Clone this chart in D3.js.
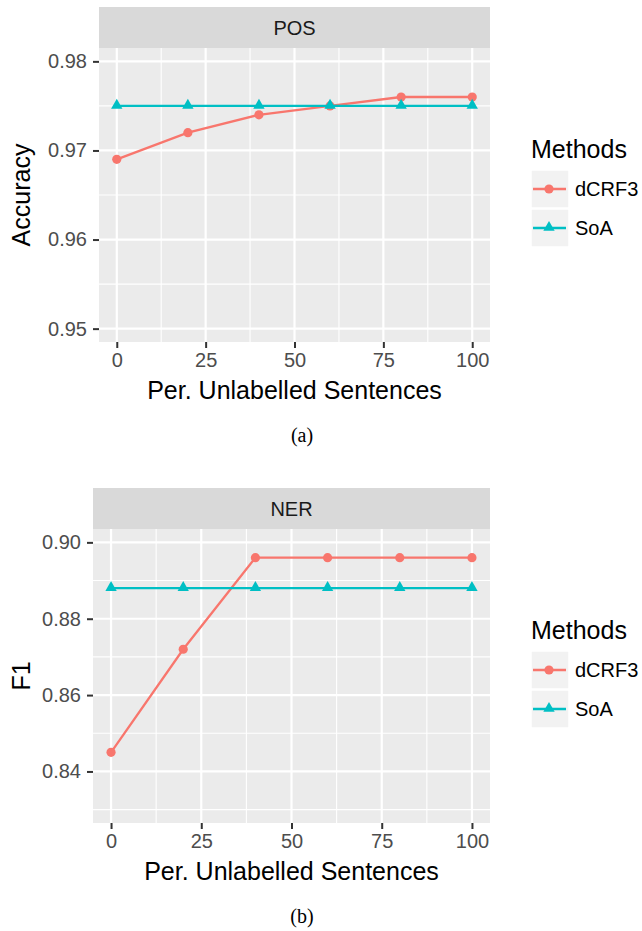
<!DOCTYPE html>
<html>
<head>
<meta charset="utf-8">
<script src="https://cdn.jsdelivr.net/npm/d3@7"></script>
<style>
  body { margin: 0; background: #fff; }
  svg { display: block; font-family: "Liberation Sans", Arial, sans-serif; }
</style>
</head>
<body>
<div id="chart"></div>
<script>
// Données
const xValues = [0, 20, 40, 60, 80, 100];
const xTicks = [0, 25, 50, 75, 100];
const methods = ['dCRF3', 'SoA'];
const posDcrf3 = [0.969, 0.972, 0.974, 0.975, 0.976, 0.976];
const posSoa = [0.975, 0.975, 0.975, 0.975, 0.975, 0.975];
const posYTicks = [0.95, 0.96, 0.97, 0.98];
const nerDcrf3 = [0.845, 0.872, 0.896, 0.896, 0.896, 0.896];
const nerSoa = [0.888, 0.888, 0.888, 0.888, 0.888, 0.888];
const nerYTicks = [0.84, 0.86, 0.88, 0.90];

const colors = { dCRF3: '#F8766D', SoA: '#00BFC4' };
const triSize = 56;
const dotR = 4.6;

const svg = d3.select('#chart')
    .append('svg')
    .attr('width', 642)
    .attr('height', 931);

// petit helper : ajoute la moitié d'un pas entre les graduations
function minorBreaks(ticks, domain) {
    const step = ticks[1] - ticks[0];
    const out = ticks.map(t => t - step / 2).concat([ticks[ticks.length - 1] + step / 2]);
    const lo = Math.min(...domain), hi = Math.max(...domain);
    return out.filter(v => v > lo && v < hi);
}

function drawPanel(cfg) {
    const { strip, series, yTicks, yLimits, yTitle, left, top, bottom, right, caption, legendTop } = cfg;
    const stripH = 41;
    const plotTop = top + stripH;

    const xScale = d3.scaleLinear().domain([-5, 105]).range([left, right]);
    const r = yLimits[1] - yLimits[0];
    const yScale = d3.scaleLinear()
        .domain([yLimits[0] - 0.05 * r, yLimits[1] + 0.05 * r])
        .range([bottom, plotTop]);

    const g = svg.append('g');

    // fond + bandeau
    g.append('rect').attr('x', left).attr('y', plotTop)
        .attr('width', right - left).attr('height', bottom - plotTop).attr('fill', '#EBEBEB');
    g.append('rect').attr('x', left).attr('y', top)
        .attr('width', right - left).attr('height', stripH).attr('fill', '#D9D9D9');
    g.append('text').attr('x', (left + right) / 2).attr('y', top + stripH / 2 + 7)
        .attr('text-anchor', 'middle').attr('font-size', 20).attr('fill', '#1A1A1A').text(strip);

    // grille mineure
    const yMinor = minorBreaks(yTicks, yScale.domain());
    const xMinor = minorBreaks(xTicks, xScale.domain());
    g.selectAll('line.ymin').data(yMinor).enter().append('line')
        .attr('x1', left).attr('x2', right)
        .attr('y1', d => yScale(d)).attr('y2', d => yScale(d))
        .attr('stroke', '#fff').attr('stroke-width', 1.1);
    g.selectAll('line.xmin').data(xMinor).enter().append('line')
        .attr('y1', plotTop).attr('y2', bottom)
        .attr('x1', d => xScale(d)).attr('x2', d => xScale(d))
        .attr('stroke', '#fff').attr('stroke-width', 1.1);
    // grille majeure
    g.selectAll('line.ymaj').data(yTicks).enter().append('line')
        .attr('x1', left).attr('x2', right)
        .attr('y1', d => yScale(d)).attr('y2', d => yScale(d))
        .attr('stroke', '#fff').attr('stroke-width', 2.2);
    g.selectAll('line.xmaj').data(xTicks).enter().append('line')
        .attr('y1', plotTop).attr('y2', bottom)
        .attr('x1', d => xScale(d)).attr('x2', d => xScale(d))
        .attr('stroke', '#fff').attr('stroke-width', 2.2);

    // Axes
    const yAxis = g.append('g').attr('transform', `translate(${left},0)`)
        .call(d3.axisLeft(yScale).tickValues(yTicks).tickFormat(d3.format('.2f')).tickSize(6).tickPadding(6));
    const xAxis = g.append('g').attr('transform', `translate(0,${bottom})`)
        .call(d3.axisBottom(xScale).tickValues(xTicks).tickSize(6).tickPadding(5));
    [yAxis, xAxis].forEach(a => {
        a.select('.domain').remove();
        a.selectAll('line').attr('stroke', '#333333').attr('stroke-width', 2);
        a.selectAll('text').attr('fill', '#4D4D4D').attr('font-size', 20)
            .attr('font-family', '"Liberation Sans", Arial, sans-serif');
    });

    // Séries
    const line = d3.line().x((d, i) => xScale(xValues[i])).y(d => yScale(d));
    methods.forEach((m, k) => {
        const vals = series[k];
        g.append('path').datum(vals).attr('d', line)
            .attr('fill', 'none').attr('stroke', colors[m]).attr('stroke-width', 2.3);
        if (m === 'dCRF3') {
            g.selectAll(null).data(vals).enter().append('circle')
                .attr('cx', (d, i) => xScale(xValues[i])).attr('cy', d => yScale(d))
                .attr('r', dotR).attr('fill', colors[m]);
        } else {
            g.selectAll(null).data(vals).enter().append('path')
                .attr('d', d3.symbol().type(d3.symbolTriangle).size(triSize))
                .attr('transform', (d, i) => `translate(${xScale(xValues[i])},${yScale(d) - 0.5})`)
                .attr('fill', colors[m]);
        }
    });

    // Titres
    g.append('text').attr('x', (left + right) / 2).attr('y', bottom + 57)
        .attr('text-anchor', 'middle').attr('font-size', 25).attr('fill', '#000').text('Per. Unlabelled Sentences');
    g.append('text').attr('transform', `translate(30,${(plotTop + bottom) / 2}) rotate(-90)`)
        .attr('text-anchor', 'middle').attr('font-size', 25).attr('fill', '#000').text(yTitle);
    g.append('text').attr('x', 302).attr('y', bottom + 100)
        .attr('text-anchor', 'middle').attr('font-size', 20)
        .attr('font-family', '"Liberation Serif", "Times New Roman", serif').text(caption);

    // Légende
    const lg = g.append('g').attr('transform', `translate(531,${legendTop})`);
    lg.append('text').attr('x', 0).attr('y', 0).attr('font-size', 25).attr('fill', '#000').text('Methods');
    methods.forEach((m, k) => {
        const ky = 12 + k * 39;
        lg.append('rect').attr('x', 0).attr('y', ky).attr('width', 38).attr('height', 38)
            .attr('fill', '#F2F2F2').attr('stroke', '#fff').attr('stroke-width', 1.5);
        lg.append('line').attr('x1', 2).attr('x2', 35).attr('y1', ky + 19).attr('y2', ky + 19)
            .attr('stroke', colors[m]).attr('stroke-width', 2.3);
        if (m === 'dCRF3') {
            lg.append('circle').attr('cx', 18).attr('cy', ky + 19).attr('r', dotR).attr('fill', colors[m]);
        } else {
            lg.append('path').attr('d', d3.symbol().type(d3.symbolTriangle).size(triSize)())
                .attr('transform', `translate(18,${ky + 18.5})`).attr('fill', colors[m]);
        }
        lg.append('text').attr('x', 44).attr('y', ky + 26).attr('font-size', 20).attr('fill', '#000').text(m);
    });
}

drawPanel({
    strip: 'POS', series: [posDcrf3, posSoa], yTicks: posYTicks, yLimits: [0.95, 0.98],
    yTitle: 'Accuracy', left: 99, right: 490, top: 7, bottom: 342, caption: '(a)', legendTop: 158
});
drawPanel({
    strip: 'NER', series: [nerDcrf3, nerSoa], yTicks: nerYTicks, yLimits: [0.83, 0.90],
    yTitle: 'F1', left: 93, right: 490, top: 488, bottom: 823, caption: '(b)', legendTop: 639
});
</script>
</body>
</html>
